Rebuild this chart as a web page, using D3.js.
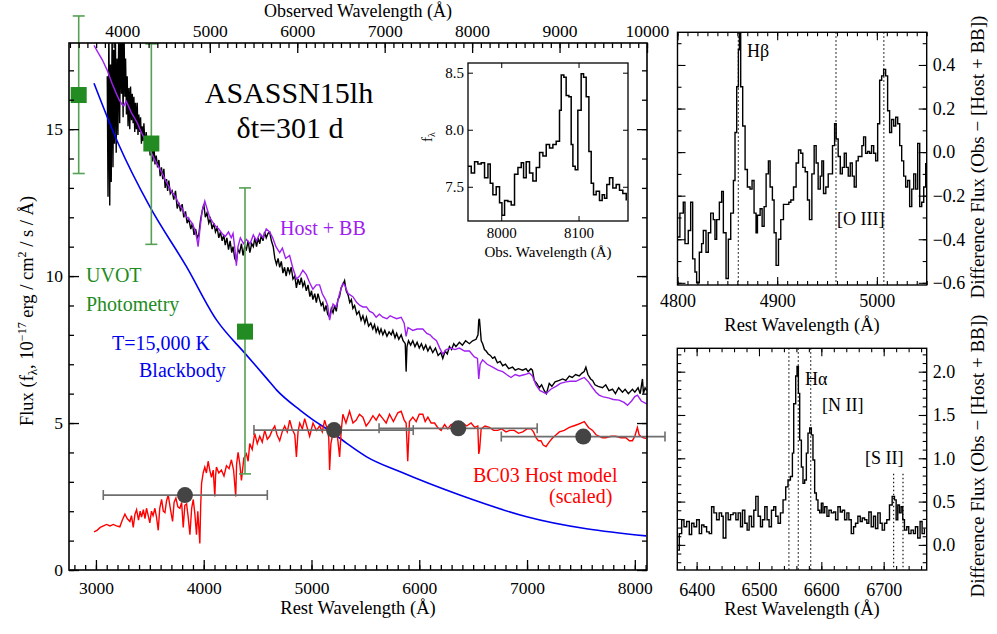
<!DOCTYPE html>
<html><head><meta charset="utf-8">
<script src="https://cdn.jsdelivr.net/npm/d3@7"></script>
<style>
body{margin:0;background:#fff}
svg text{font-family:"Liberation Serif","Times New Roman",Times,serif !important}
</style>
</head><body>
<svg id="c" width="997" height="634"></svg>
<script>
// ---------------- DATA ----------------
const redshift = 0.2326;

// observed spectrum (rest wavelength, flux 1e-17)
const observed = [[3105,16.8],[3112,12.7],[3120,18.6],[3128,12.4],[3135,17.2],[3142,13.2],[3150,18.6],[3158,13.7],[3165,17.7],[3172,14.5],[3180,18.6],[3188,14.2],[3196,17.4],[3204,14.8],[3212,18.6],[3220,15.2],[3229,18.6],[3237,16.2],[3244,18.2],[3252,15.4],[3260,18.6],[3268,16.1],[3275,17.4],[3283,15.5],[3290,16.8],[3298,15.1],[3306,16.4],[3314,15.0],[3321,16.45],[3330,15.3],[3337,16.2],[3345,15.2],[3352,16.1],[3360,14.9],[3367,15.9],[3375,15.0],[3383,15.9],[3390,14.8],[3398,15.5],[3406,14.9],[3414,15.4],[3422,14.5],[3429,15.1],[3437,14.6],[3445,15.2],[3455,14.4],[3466,14.9],[3478,14.3],[3491,14.7],[3503,14.1],[3516,14.5],[3527,13.9],[3537,14.5],[3548,13.8],[3559,14.1],[3572,13.7],[3584,13.95],[3596,13.4],[3608,13.7],[3620,13.3],[3630,13.65],[3642,13.0],[3655,13.3],[3665,12.9],[3676,13.25],[3690,12.8],[3707,12.9],[3722,12.6],[3738,12.9],[3754,12.3],[3769,12.5],[3785,12.2],[3800,12.45],[3815,12.0],[3831,12.2],[3846,11.8],[3861,11.95],[3880,11.6],[3895,11.8],[3910,11.4],[3925,11.6],[3940,11.3],[3954,11.4],[3970,11.9],[3985,12.2],[4001,12.45],[4015,12.0],[4030,12.15],[4047,11.8],[4062,11.95],[4078,11.6],[4094,11.8],[4109,11.5],[4125,11.65],[4140,11.3],[4155,11.5],[4171,11.2],[4186,11.4],[4200,11.05],[4215,11.3],[4230,10.9],[4245,11.2],[4260,10.8],[4272,11.0],[4288,10.6],[4303,10.5],[4318,10.9],[4333,10.8],[4350,11.1],[4365,10.7],[4380,11.0],[4396,10.9],[4412,11.2],[4428,10.8],[4445,11.1],[4460,11.0],[4475,11.3],[4490,11.0],[4505,11.3],[4520,11.1],[4535,11.4],[4550,11.2],[4565,11.5],[4580,11.3],[4596,11.45],[4612,11.5],[4628,11.2],[4645,11.0],[4660,10.6],[4675,10.4],[4690,10.6],[4705,10.3],[4720,10.5],[4735,10.1],[4750,10.3],[4765,10.0],[4780,10.3],[4797,10.1],[4812,10.3],[4828,9.9],[4845,10.0],[4860,9.6],[4875,9.9],[4890,9.7],[4905,9.95],[4920,9.65],[4935,9.8],[4952,9.5],[4968,9.7],[4985,9.3],[5000,9.5],[5013,9.2],[5030,9.4],[5045,9.1],[5060,9.4],[5075,9.2],[5090,9.0],[5105,9.1],[5120,8.8],[5135,9.0],[5150,8.7],[5168,8.6],[5184,8.9],[5200,8.75],[5215,9.0],[5230,8.8],[5245,9.2],[5260,9.3],[5275,9.6],[5290,9.7],[5307,9.85],[5322,9.5],[5340,9.35],[5355,9.1],[5370,9.2],[5384,8.9],[5400,9.0],[5420,8.7],[5440,8.8],[5460,8.5],[5477,8.65],[5495,8.4],[5510,8.6],[5530,8.3],[5550,8.4],[5569,8.2],[5585,8.35],[5600,8.1],[5615,8.25],[5630,8.05],[5645,8.2],[5662,8.0],[5680,8.15],[5700,7.95],[5720,8.1],[5740,8.0],[5755,8.15],[5775,7.9],[5790,8.05],[5810,7.85],[5832,8.0],[5850,7.8],[5870,7.7],[5878,6.75],[5886,7.6],[5900,7.8],[5920,7.65],[5940,7.8],[5960,7.6],[5980,7.75],[6000,7.55],[6020,7.7],[6040,7.5],[6060,7.65],[6080,7.45],[6100,7.6],[6125,7.4],[6150,7.55],[6175,7.3],[6200,7.4],[6218,7.2],[6240,7.45],[6260,7.35],[6280,7.6],[6300,7.5],[6320,7.7],[6340,7.6],[6372,7.75],[6400,7.65],[6430,7.8],[6465,7.7],[6495,7.8],[6527,7.85],[6545,8.0],[6552,8.5],[6558,8.55],[6566,8.2],[6575,7.8],[6588,7.7],[6605,7.5],[6620,7.45],[6640,7.35],[6660,7.3],[6681,7.2],[6700,7.25],[6725,7.05],[6750,7.1],[6774,6.95],[6800,7.0],[6830,6.85],[6866,6.9],[6890,6.8],[6920,6.85],[6959,6.8],[6990,6.85],[7010,6.75],[7036,6.85],[7050,6.8],[7067,6.45],[7090,6.35],[7114,6.2],[7135,6.3],[7160,6.1],[7180,6.0],[7206,6.35],[7230,6.25],[7260,6.4],[7299,6.45],[7330,6.5],[7360,6.45],[7392,6.6],[7420,6.55],[7450,6.65],[7484,6.6],[7510,6.7],[7530,6.75],[7546,6.9],[7565,6.65],[7590,6.5],[7608,6.45],[7630,6.3],[7660,6.25],[7700,6.2],[7730,6.3],[7760,6.1],[7793,6.15],[7820,6.0],[7850,6.2],[7885,6.05],[7910,6.15],[7940,6.0],[7978,6.15],[8000,6.05],[8030,6.2],[8050,6.0],[8071,6.5],[8080,6.0],[8095,6.2],[8110,6.1]];

// host + blackbody model
const hostPlusBB = [[2982,17.85],[3020,17.6],[3060,17.35],[3105,17.0],[3150,16.55],[3190,16.2],[3215,16.0],[3240,15.85],[3260,15.8],[3280,15.95],[3300,15.8],[3330,15.55],[3352,15.42],[3385,15.2],[3414,14.95],[3440,14.75],[3470,14.55],[3491,14.3],[3520,14.15],[3553,13.9],[3585,13.7],[3615,13.5],[3645,13.25],[3676,13.05],[3705,12.85],[3738,12.7],[3770,12.45],[3800,12.3],[3830,12.05],[3860,11.95],[3892,11.8],[3915,11.6],[3935,11.3],[3948,11.0],[3965,11.6],[3985,12.2],[4010,12.55],[4030,12.3],[4055,12.0],[4080,11.85],[4110,11.7],[4140,11.6],[4170,11.45],[4200,11.35],[4230,11.5],[4255,11.3],[4272,11.45],[4290,10.9],[4303,10.35],[4318,11.0],[4340,11.3],[4370,11.1],[4396,11.25],[4430,11.1],[4460,11.4],[4490,11.2],[4520,11.45],[4550,11.3],[4580,11.6],[4612,11.5],[4640,11.3],[4670,11.0],[4705,10.8],[4730,10.95],[4760,10.6],[4797,10.7],[4825,10.3],[4860,9.9],[4890,10.0],[4920,10.2],[4952,10.05],[4980,9.8],[5013,9.55],[5045,9.7],[5075,9.7],[5100,9.4],[5130,9.2],[5150,9.0],[5168,8.5],[5184,8.8],[5200,9.05],[5230,8.95],[5260,9.4],[5290,9.75],[5307,9.7],[5340,9.4],[5384,9.3],[5420,9.1],[5450,9.0],[5477,8.95],[5510,8.95],[5540,8.8],[5569,8.75],[5600,8.6],[5630,8.7],[5662,8.6],[5700,8.55],[5730,8.65],[5755,8.6],[5790,8.55],[5832,8.6],[5860,8.4],[5878,7.95],[5895,8.25],[5940,8.15],[5980,8.2],[6033,8.2],[6070,8.05],[6100,8.0],[6125,7.9],[6160,7.8],[6190,7.55],[6218,7.35],[6250,7.5],[6295,7.55],[6330,7.5],[6372,7.55],[6420,7.45],[6465,7.45],[6511,7.25],[6540,7.2],[6552,6.5],[6565,7.0],[6588,7.15],[6630,7.0],[6681,6.9],[6730,6.8],[6774,6.75],[6810,6.65],[6851,6.55],[6890,6.65],[6928,6.6],[6980,6.65],[7021,6.7],[7050,6.6],[7083,6.3],[7120,6.1],[7150,6.05],[7176,6.0],[7220,6.15],[7268,6.25],[7310,6.35],[7361,6.4],[7400,6.42],[7453,6.42],[7500,6.5],[7531,6.55],[7570,6.4],[7608,6.2],[7640,6.05],[7669,5.95],[7700,5.9],[7762,5.85],[7800,5.8],[7854,5.78],[7900,5.7],[7932,5.6],[7970,5.75],[8000,5.9],[8024,5.95],[8060,5.75],[8110,5.65]];

// BC03 host model (scaled)
const hostModel = [[2982,1.3],[3010,1.35],[3040,1.45],[3070,1.5],[3099,1.55],[3130,1.5],[3161,1.55],[3190,1.5],[3222,1.47],[3245,1.7],[3269,1.9],[3290,1.75],[3315,1.65],[3330,1.85],[3346,1.45],[3362,1.9],[3377,2.05],[3395,1.7],[3410,2.0],[3423,1.8],[3440,2.05],[3455,1.75],[3469,2.1],[3485,1.85],[3500,1.6],[3515,2.0],[3530,1.85],[3547,2.1],[3562,1.8],[3578,1.35],[3592,2.1],[3609,2.4],[3625,2.0],[3640,1.95],[3655,2.35],[3671,2.55],[3690,2.1],[3711,1.65],[3725,2.3],[3742,2.45],[3760,2.15],[3779,2.1],[3795,2.3],[3810,1.45],[3825,2.2],[3841,2.25],[3856,1.8],[3872,1.2],[3888,2.1],[3903,2.4],[3918,1.9],[3933,1.2],[3945,2.0],[3964,0.9],[3972,2.2],[3980,2.95],[3995,3.3],[4010,3.5],[4025,3.3],[4041,3.7],[4056,3.4],[4072,3.15],[4088,3.4],[4103,2.5],[4110,3.2],[4118,3.5],[4140,3.3],[4164,3.4],[4188,3.2],[4211,3.55],[4235,3.45],[4257,3.75],[4277,3.4],[4297,2.5],[4305,3.6],[4319,4.0],[4335,3.6],[4350,3.05],[4372,3.8],[4396,3.95],[4412,3.7],[4427,4.3],[4450,4.1],[4473,4.65],[4497,4.3],[4520,4.55],[4543,4.35],[4566,4.75],[4590,4.45],[4612,4.55],[4635,4.75],[4659,4.9],[4680,4.6],[4705,4.4],[4728,4.7],[4751,4.9],[4775,4.7],[4798,5.1],[4820,4.8],[4845,4.6],[4860,3.85],[4875,4.7],[4891,5.0],[4915,4.8],[4937,5.15],[4960,4.85],[4983,4.55],[5000,4.8],[5014,5.0],[5045,4.75],[5076,4.9],[5100,4.7],[5122,5.1],[5145,4.8],[5160,4.5],[5168,3.4],[5180,4.3],[5199,4.65],[5230,4.9],[5261,3.85],[5275,4.7],[5291,5.3],[5320,5.0],[5353,5.4],[5385,5.0],[5415,5.1],[5445,5.3],[5477,5.2],[5507,4.9],[5538,5.05],[5570,5.25],[5600,5.1],[5630,5.3],[5662,5.15],[5693,5.0],[5724,5.3],[5760,5.05],[5801,5.35],[5832,5.4],[5860,5.1],[5878,5.0],[5893,3.7],[5909,5.05],[5940,5.2],[5971,5.05],[6000,5.3],[6033,5.3],[6055,5.05],[6080,5.2],[6110,5.0],[6142,5.0],[6170,4.85],[6203,4.75],[6235,4.95],[6265,4.8],[6295,4.95],[6327,4.95],[6365,5.05],[6404,5.0],[6440,4.9],[6481,5.0],[6515,4.85],[6543,4.9],[6552,3.95],[6560,4.1],[6574,4.8],[6610,4.9],[6651,4.85],[6690,4.75],[6728,4.75],[6765,4.8],[6805,4.7],[6840,4.75],[6882,4.75],[6920,4.65],[6960,4.7],[7000,4.8],[7037,4.8],[7060,4.7],[7083,4.5],[7105,4.4],[7129,4.4],[7150,4.25],[7176,4.2],[7205,4.35],[7238,4.5],[7270,4.6],[7300,4.7],[7345,4.75],[7392,4.85],[7430,4.9],[7469,4.95],[7500,5.0],[7531,5.05],[7570,4.85],[7608,4.75],[7640,4.6],[7670,4.55],[7700,4.5],[7731,4.5],[7780,4.55],[7824,4.55],[7870,4.5],[7917,4.5],[7950,4.4],[7978,4.4],[8000,4.55],[8024,4.85],[8040,4.6],[8055,4.55],[8080,4.5],[8105,4.48]];

// T=15,000 K blackbody
const blackbody = [[2982,16.56],[3207,14.51],[3500,12.36],[3840,10.32],[4120,8.50],[4383,7.37],[4584,6.52],[4677,6.12],[4893,5.44],[5017,5.10],[5203,4.65],[5327,4.31],[5512,3.85],[5824,3.34],[6376,2.55],[6997,1.81],[8105,1.16]];

// UVOT photometry: rest wavelength, flux, error range
const uvotWave = [2840, 3514, 4383];
const uvotFlux = [16.16, 14.51, 8.11];
const uvotLo   = [13.49, 11.08, 3.27];
const uvotHi   = [18.85, 17.90, 13.0];

// host photometry (grey)
const photWave = [3826, 5209, 6362, 7522];
const photFlux = [2.55, 4.76, 4.82, 4.54];
const photW0   = [3068, 4466, 5627, 6761];
const photW1   = [4590, 5944, 7094, 8280];

// inset: observed wavelength vs f_lambda
const insetSpec = [[7956.9,7.68],[7961.2,7.62],[7965.5,7.72],[7969.8,7.70],[7974.1,7.71],[7978.4,7.58],[7982.8,7.70],[7985.8,7.53],[7989.2,7.43],[7993.5,7.50],[7997.8,7.36],[8000.9,7.25],[8004.3,7.38],[8008.6,7.37],[8012.9,7.34],[8017.2,7.61],[8021.6,7.67],[8025.9,7.71],[8028.9,7.58],[8032.3,7.72],[8036.6,7.62],[8040.9,7.55],[8045.3,7.67],[8049.6,7.80],[8053.9,7.77],[8058.2,7.87],[8062.5,7.84],[8066.8,7.87],[8071.1,7.90],[8075.4,8.17],[8077.6,8.48],[8081.0,8.46],[8084.0,8.30],[8087.5,8.29],[8090.5,7.87],[8092.7,7.68],[8095.7,7.65],[8099.1,8.17],[8103.4,8.49],[8106.5,8.46],[8109.9,8.29],[8113.4,7.81],[8116.4,7.53],[8119.4,7.43],[8122.8,7.46],[8127.1,7.38],[8130.6,7.43],[8133.6,7.40],[8136.6,7.52],[8140.1,7.58],[8144.4,7.49],[8148.7,7.52],[8153.0,7.47],[8157.3,7.44],[8161.7,7.38]];

// difference spectrum around H-beta / [O III]
const hbSpec = [[4799.8,-0.39],[4802.4,-0.28],[4805.8,-0.23],[4807.5,-0.42],[4810.8,-0.36],[4813.2,-0.23],[4815.2,-0.49],[4817.5,-0.55],[4819.2,-0.60],[4821.9,-0.46],[4824.2,-0.42],[4825.9,-0.36],[4828.6,-0.46],[4830.9,-0.37],[4833.3,-0.28],[4835.9,-0.31],[4837.6,-0.40],[4839.3,-0.31],[4842.0,-0.23],[4844.3,-0.18],[4846.0,-0.37],[4848.7,-0.58],[4851.0,-0.40],[4853.4,-0.28],[4856.1,-0.13],[4857.7,0.09],[4859.4,0.30],[4861.1,0.47],[4862.1,0.55],[4863.4,0.30],[4865.4,0.12],[4867.8,-0.08],[4870.1,-0.16],[4872.8,-0.17],[4874.8,-0.13],[4876.8,-0.28],[4878.8,-0.37],[4880.2,-0.29],[4882.9,-0.26],[4884.9,-0.34],[4886.9,-0.25],[4888.9,-0.10],[4891.2,-0.04],[4892.9,-0.16],[4895.2,-0.22],[4896.9,-0.37],[4898.9,-0.52],[4901.3,-0.40],[4903.6,-0.31],[4906.3,-0.24],[4909.0,-0.24],[4911.7,-0.23],[4913.7,-0.22],[4916.4,-0.16],[4919.0,-0.05],[4921.4,0.01],[4923.7,-0.005],[4925.7,-0.07],[4928.1,-0.09],[4930.4,-0.22],[4932.4,-0.31],[4934.8,-0.10],[4937.1,0.03],[4939.1,-0.05],[4941.1,-0.17],[4943.2,-0.11],[4944.8,-0.04],[4946.5,-0.19],[4948.8,-0.16],[4951.2,-0.10],[4953.2,-0.10],[4955.5,0.03],[4957.6,0.13],[4959.2,0.06],[4961.2,-0.02],[4963.3,-0.10],[4965.3,-0.07],[4967.3,-0.005],[4969.3,-0.07],[4971.3,-0.11],[4973.3,-0.05],[4975.3,-0.11],[4977.3,-0.16],[4979.3,-0.04],[4981.3,-0.02],[4983.4,-0.02],[4985.0,0.03],[4986.7,0.07],[4988.7,-0.005],[4990.7,0.003],[4992.7,-0.005],[4994.7,0.03],[4996.8,-0.005],[4998.8,-0.04],[5000.8,0.13],[5002.8,0.33],[5004.8,0.35],[5006.8,0.38],[5008.8,0.35],[5010.8,0.19],[5012.8,0.09],[5014.8,0.15],[5016.9,0.12],[5018.9,0.16],[5020.9,0.13],[5022.9,0.03],[5024.9,-0.04],[5026.9,-0.11],[5028.9,-0.16],[5030.9,-0.13],[5032.9,-0.25],[5035.0,-0.17],[5037.0,-0.10],[5039.0,-0.17],[5041.0,0.04],[5043.0,-0.25],[5045.0,-0.23],[5047.0,-0.16],[5049.0,-0.05]];

// difference spectrum around H-alpha / [N II] / [S II]
const haSpec = [[6369.0,-0.06],[6372.2,0.13],[6376.0,0.29],[6379.7,0.21],[6384.0,0.27],[6388.2,0.12],[6392.0,0.25],[6395.7,0.21],[6400.0,0.29],[6404.2,0.13],[6408.0,0.23],[6411.7,0.21],[6416.0,0.15],[6420.2,0.13],[6424.0,0.44],[6427.7,0.37],[6432.0,0.29],[6436.2,0.37],[6440.0,0.33],[6442.6,0.08],[6446.9,0.37],[6450.6,0.29],[6454.4,0.35],[6458.6,0.37],[6462.9,0.29],[6466.6,0.37],[6470.4,0.21],[6473.6,0.40],[6477.3,0.25],[6481.0,0.17],[6484.2,0.33],[6488.0,0.21],[6491.7,0.40],[6494.9,0.56],[6498.6,0.33],[6502.4,0.21],[6505.6,0.29],[6509.3,0.44],[6513.0,0.29],[6516.2,0.21],[6520.0,0.40],[6523.7,0.44],[6526.9,0.33],[6530.6,0.25],[6534.4,0.37],[6538.6,0.52],[6542.9,0.67],[6546.6,0.75],[6550.4,0.79],[6553.6,1.06],[6555.7,1.63],[6558.9,1.95],[6561.0,2.06],[6563.2,1.75],[6565.3,1.21],[6568.0,0.90],[6570.6,0.71],[6573.3,0.75],[6576.0,1.06],[6578.6,1.29],[6581.3,1.35],[6584.0,1.27],[6586.6,0.98],[6589.3,0.60],[6592.0,0.52],[6594.6,0.40],[6597.3,0.37],[6600.0,0.48],[6602.6,0.37],[6605.3,0.44],[6609.0,0.33],[6612.2,0.40],[6616.0,0.37],[6619.7,0.38],[6622.9,0.29],[6626.6,0.44],[6630.4,0.38],[6633.6,0.40],[6637.3,0.29],[6641.0,0.37],[6644.2,0.29],[6648.0,0.13],[6651.7,0.21],[6654.9,0.25],[6658.6,0.33],[6662.4,0.27],[6665.6,0.31],[6669.3,0.29],[6673.0,0.25],[6676.2,0.38],[6680.0,0.21],[6683.7,0.33],[6686.9,0.19],[6690.6,0.37],[6694.4,0.25],[6697.6,0.17],[6701.3,0.25],[6705.0,0.29],[6709.3,0.46],[6713.6,0.56],[6717.3,0.52],[6720.0,0.29],[6722.6,0.46],[6725.3,0.37],[6728.0,0.44],[6730.6,0.29],[6733.3,0.17],[6737.0,0.21],[6740.2,0.13],[6743.9,0.17],[6747.7,0.13],[6750.9,0.21],[6754.6,0.08],[6758.4,0.27],[6761.6,0.13],[6765.3,0.19]];

const hbLines = [4861, 4959, 5007];
const haLines = [6548, 6563, 6583];
const siiLines = [6716, 6731];

// tick values
const restMajor = [3000,4000,5000,6000,7000,8000];
const obsMajor = [4000,5000,6000,7000,8000,9000,10000];
const fluxMajor = [0,5,10,15];
const insetXMajor = [8000,8100];
const insetYMajor = [7.5,8.0,8.5];
const hbXMajor = [4800,4900,5000];
const hbYMajor = [-0.6,-0.4,-0.2,0.0,0.2,0.4];
const haXMajor = [6400,6500,6600,6700];
const haYMajor = [0.0,0.5,1.0,1.5,2.0];

// ---------------- DRAW ----------------
const FONT = "Liberation Serif";
const svg = d3.select("#c").attr("font-family", FONT);
const range = (a,b,s) => d3.range(Math.round(a/s), Math.round(b/s)+1).map(i => +(i*s).toFixed(4));

function axes(g, x, y, o) {
  const [x0,x1] = x.range(), [y0,y1] = y.range();
  const mk = (axis, tr, vals, size, fmt, pad, fs) => {
    const a = g.append("g").attr("transform", tr)
      .call(axis.tickValues(vals).tickSize(size).tickPadding(pad||4).tickFormat(fmt || ""));
    a.select(".domain").remove();
    a.attr("font-family", FONT).attr("font-size", fs || 18);
    a.selectAll("line").attr("stroke-width", o.tw || 1.2);
    a.selectAll("text").attr("fill", "#000");
    return a;
  };
  mk(d3.axisBottom(x), `translate(0,${y0})`, o.xMajor, -o.maj, o.xFmt, o.bPad, o.fs);
  mk(d3.axisBottom(x), `translate(0,${y0})`, o.xMinor, -o.min, null);
  const xt = o.xTop || x;
  mk(d3.axisTop(xt), `translate(0,${y1})`, o.xTopMajor || o.xMajor, -o.maj, o.xTopFmt, o.tPad, o.fs);
  mk(d3.axisTop(xt), `translate(0,${y1})`, o.xTopMinor || o.xMinor, -o.min, null);
  mk(d3.axisLeft(y), `translate(${x0},0)`, o.yMajor, -o.maj, o.yLeftFmt, o.lPad, o.fs);
  mk(d3.axisLeft(y), `translate(${x0},0)`, o.yMinor, -o.min, null);
  mk(d3.axisRight(y), `translate(${x1},0)`, o.yMajor, -o.maj, o.yRightFmt, o.rPad, o.fs);
  mk(d3.axisRight(y), `translate(${x1},0)`, o.yMinor, -o.min, null);
  g.append("rect").attr("x", x0).attr("y", y1).attr("width", x1-x0).attr("height", y0-y1)
    .attr("fill", "none").attr("stroke", "#000").attr("stroke-width", o.bw || 1.5);
}

function clip(id, x, y) {
  const [x0,x1] = x.range(), [y0,y1] = y.range();
  svg.append("clipPath").attr("id", id).append("rect")
    .attr("x", x0).attr("y", y1).attr("width", x1-x0).attr("height", y0-y1);
  return svg.append("g").attr("clip-path", `url(#${id})`);
}

// ---- main panel ----
const x = d3.scaleLinear().domain([2750, 8113]).range([69, 647]);
const xObs = d3.scaleLinear().domain(x.domain().map(d => d*(1+redshift))).range(x.range());
const y = d3.scaleLinear().domain([0, 17.93]).range([570, 43]);

const mainG = clip("cm", x, y);
const line = d3.line().x(d => x(d[0])).y(d => y(d[1]));
mainG.append("path").datum(observed).attr("d", line).attr("fill","none").attr("stroke","#000").attr("stroke-width",1.4);
mainG.append("path").datum(hostPlusBB).attr("d", line).attr("fill","none").attr("stroke","#a020f0").attr("stroke-width",1.4);
mainG.append("path").datum(blackbody).attr("d", line.curve(d3.curveMonotoneX)).attr("fill","none").attr("stroke","#0000f0").attr("stroke-width",1.6);
line.curve(d3.curveLinear);
mainG.append("path").datum(hostModel).attr("d", line).attr("fill","none").attr("stroke","#ff0000").attr("stroke-width",1.4);

// grey host photometry (not clipped)
const pg = svg.append("g");
photWave.forEach((w,i) => {
  const yy = y(photFlux[i]);
  pg.append("line").attr("x1", x(photW0[i])).attr("x2", x(photW1[i])).attr("y1", yy).attr("y2", yy)
    .attr("stroke","#6e6e6e").attr("stroke-width",1.8);
  [photW0[i], photW1[i]].forEach(e => pg.append("line").attr("x1",x(e)).attr("x2",x(e))
    .attr("y1",yy-5).attr("y2",yy+5).attr("stroke","#6e6e6e").attr("stroke-width",1.6));
});
photWave.forEach((w,i) => pg.append("circle").attr("cx", x(w)).attr("cy", y(photFlux[i])).attr("r", 8).attr("fill","#444"));

// green UVOT
const ug = svg.append("g");
uvotWave.forEach((w,i) => {
  const xx = x(w);
  ug.append("line").attr("x1",xx).attr("x2",xx).attr("y1",y(uvotLo[i])).attr("y2",y(uvotHi[i]))
    .attr("stroke","#55a055").attr("stroke-width",1.6);
  [uvotLo[i], uvotHi[i]].forEach(v => ug.append("line").attr("x1",xx-6).attr("x2",xx+6)
    .attr("y1",y(v)).attr("y2",y(v)).attr("stroke","#55a055").attr("stroke-width",1.6));
  ug.append("rect").attr("x",xx-8).attr("y",y(uvotFlux[i])-8).attr("width",16).attr("height",16).attr("fill","#228b22");
});

axes(svg.append("g"), x, y, {
  xMajor: restMajor, xMinor: range(2800, 8100, 100), xFmt: d3.format("d"), bPad: 12,
  xTop: xObs, xTopMajor: obsMajor, xTopMinor: range(3400, 10000, 100), xTopFmt: d3.format("d"), tPad: 6,
  yMajor: fluxMajor, yMinor: range(0, 17, 1), yLeftFmt: d3.format("d"), lPad: 6,
  maj: 10, min: 5, fs: 17.5, bw: 1.6, tw: 1.3
});

// main texts
const T = (t, xx, yy, o={}) => svg.append("text").attr("x", xx).attr("y", yy).text(t)
  .attr("font-size", o.fs || 20).attr("fill", o.c || "#000").attr("text-anchor", o.a || "start");
T("Observed Wavelength (Å)", 358, 17, {fs:18, a:"middle"});
T("Rest Wavelength (Å)", 358, 614, {fs:18.5, a:"middle"});
T("ASASSN15lh", 289, 103, {fs:30, a:"middle"});
T("δt=301 d", 290, 138, {fs:30, a:"middle"});
T("Host + BB", 280, 235, {c:"#a020f0"});
T("UVOT", 86, 282, {c:"#228b22"});
T("Photometry", 86, 311, {c:"#228b22"});
T("T=15,000 K", 112, 350, {c:"#0000f0"});
T("Blackbody", 139, 377, {c:"#0000f0"});
T("BC03 Host model", 473, 482, {c:"#ff0000"});
T("(scaled)", 549, 503, {c:"#ff0000"});

const yl = svg.append("text").attr("transform","translate(33,311) rotate(-90)")
  .attr("text-anchor","middle").attr("font-size",18.5);
yl.append("tspan").text("Flux (f");
yl.append("tspan").text("λ").attr("font-size",13).attr("dy",4);
yl.append("tspan").text(", 10").attr("dy",-4);
yl.append("tspan").text("−17").attr("font-size",12).attr("dy",-7);
yl.append("tspan").text(" erg / cm").attr("dy",7);
yl.append("tspan").text("2").attr("font-size",12).attr("dy",-7);
yl.append("tspan").text(" / s / Å)").attr("dy",7);

// ---- inset ----
const xi = d3.scaleLinear().domain([7957, 8164]).range([468, 628]);
const yi = d3.scaleLinear().domain([7.2, 8.585]).range([221, 63]);
svg.append("rect").attr("x",468).attr("y",63).attr("width",160).attr("height",158).attr("fill","#fff");
const insG = clip("ci", xi, yi);
insG.append("path").datum(insetSpec)
  .attr("d", d3.line().x(d => xi(d[0])).y(d => yi(d[1])).curve(d3.curveStepAfter))
  .attr("fill","none").attr("stroke","#000").attr("stroke-width",1.5);
{
  const g = svg.append("g");
  const ax = g.append("g").attr("transform","translate(0,221)")
    .call(d3.axisBottom(xi).tickValues(insetXMajor).tickSize(-5).tickPadding(6).tickFormat(d3.format("d")));
  const ay = g.append("g").attr("transform","translate(468,0)")
    .call(d3.axisLeft(yi).tickValues(insetYMajor).tickSize(-5).tickPadding(4).tickFormat(d3.format(".1f")));
  const at = g.append("g").attr("transform","translate(0,63)")
    .call(d3.axisTop(xi).tickValues(insetXMajor).tickSize(-5).tickFormat(""));
  const ar = g.append("g").attr("transform","translate(628,0)")
    .call(d3.axisRight(yi).tickValues(insetYMajor).tickSize(-5).tickFormat(""));
  [ax,ay,at,ar].forEach(a => { a.select(".domain").remove(); a.attr("font-family",FONT).attr("font-size",15); a.selectAll("text").attr("fill","#000"); });
  g.append("rect").attr("x",468).attr("y",63).attr("width",160).attr("height",158).attr("fill","none").attr("stroke","#000").attr("stroke-width",1.3);
  T("Obs. Wavelength (Å)", 548, 257, {fs:15, a:"middle"});
  const fl = svg.append("text").attr("transform","translate(432,137) rotate(-90)").attr("text-anchor","middle").attr("font-size",15);
  fl.append("tspan").text("f");
  fl.append("tspan").text("λ").attr("font-size",10).attr("dy",3);
}

// ---- right panels ----
function diffPanel(id, xs, ys, data, lines, o) {
  const g = clip(id, xs, ys);
  const [yb, yt] = ys.range();
  lines.forEach(l => g.append("line").attr("x1",xs(l.w)).attr("x2",xs(l.w))
    .attr("y1", l.top != null ? ys(l.top) : yt).attr("y2", yb)
    .attr("stroke","#000").attr("stroke-width",1.1).attr("stroke-dasharray","1.5,2.5"));
  g.append("path").datum(data)
    .attr("d", d3.line().x(d => xs(d[0])).y(d => ys(d[1])).curve(d3.curveStepAfter))
    .attr("fill","none").attr("stroke","#000").attr("stroke-width",1.4);
  axes(svg.append("g"), xs, ys, {
    xMajor: o.xMajor, xMinor: o.xMinor, xFmt: d3.format("d"), bPad: o.bPad,
    xTopMajor: o.xMajor, xTopMinor: o.xMinor,
    yMajor: o.yMajor, yMinor: o.yMinor, yRightFmt: d3.format(".1f"), rPad: 6,
    maj: 8, min: 4, fs: 18, bw: 1.4, tw: 1.1
  });
}

const xhb = d3.scaleLinear().domain([4800, 5050]).range([677.5, 926.7]);
const yhb = d3.scaleLinear().domain([-0.61, 0.55]).range([285, 32.3]);
diffPanel("chb", xhb, yhb, hbSpec, hbLines.map(w => ({w})), {
  xMajor: hbXMajor, xMinor: range(4800, 5050, 10), bPad: 9,
  yMajor: hbYMajor, yMinor: range(-0.6, 0.5, 0.1)
});
T("Hβ", 747, 57, {fs:18});
T("[O III]", 837, 225, {fs:18});
T("Rest Wavelength (Å)", 802, 331, {fs:18.5, a:"middle"});

const xha = d3.scaleLinear().domain([6369, 6769]).range([677.3, 926.7]);
const yha = d3.scaleLinear().domain([-0.29, 2.27]).range([570, 348.3]);
diffPanel("cha", xha, yha, haSpec,
  haLines.map(w => ({w})).concat(siiLines.map(w => ({w, top: 0.82}))), {
  xMajor: haXMajor, xMinor: range(6380, 6760, 20), bPad: 13,
  yMajor: haYMajor, yMinor: range(-0.2, 2.2, 0.1)
});
T("Hα", 805, 385, {fs:18});
T("[N II]", 822, 411, {fs:18});
T("[S II]", 865, 464, {fs:18});
T("Rest Wavelength (Å)", 802, 615, {fs:18.5, a:"middle"});

svg.append("text").attr("transform","translate(984,157) rotate(-90)").attr("text-anchor","middle")
  .attr("font-size",19).text("Difference Flux (Obs − [Host + BB])");
svg.append("text").attr("transform","translate(984,456) rotate(-90)").attr("text-anchor","middle")
  .attr("font-size",19).text("Difference Flux (Obs − [Host + BB])");
</script>
</body></html>
